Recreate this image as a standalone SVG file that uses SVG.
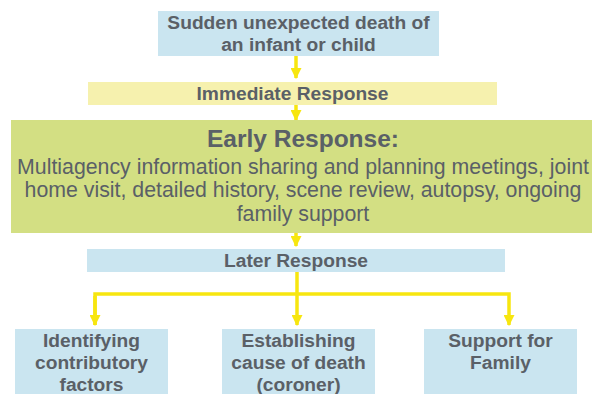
<svg xmlns="http://www.w3.org/2000/svg" width="593" height="394" viewBox="0 0 593 394">
<defs>
<style>
.blue{fill:#CAE5F0}
.yel{fill:#F6F1AE}
.grn{fill:#D3DF83}
text{font-family:"Liberation Sans",Arial,sans-serif;fill:#5A6067;text-anchor:middle}
.b{font-weight:bold;font-size:19.2px}
.h{font-weight:bold;font-size:24.5px}
.r{font-size:21.3px}
.ln{stroke:#F7E60F;stroke-width:3.5;fill:none}
</style>
<marker id="ah" viewBox="0 0 10 10" refX="9" refY="5" markerWidth="11" markerHeight="11" markerUnits="userSpaceOnUse" orient="auto">
<path d="M0,0 L10,5 L0,10 Z" fill="#F7E60F"/>
</marker>
</defs>
<rect width="593" height="394" fill="#FFFFFF"/>
<g id="connectors">
<line class="ln" x1="296" y1="56" x2="296" y2="78" marker-end="url(#ah)"/>
<line class="ln" x1="296" y1="105" x2="296" y2="120" marker-end="url(#ah)"/>
<line class="ln" x1="296" y1="233" x2="296" y2="246" marker-end="url(#ah)"/>
<line class="ln" x1="297" y1="272" x2="297" y2="325" marker-end="url(#ah)"/>
<polyline class="ln" points="95,325 95,294 509,294 509,325" marker-end="url(#ah)"/>
<line class="ln" x1="95" y1="296" x2="95" y2="325" marker-end="url(#ah)"/>
</g>
<g id="n-sudden">
<rect class="blue" x="158" y="11" width="281" height="45"/>
<text class="b" x="298.5" y="29">Sudden unexpected death of</text>
<text class="b" x="298.5" y="51">an infant or child</text>
</g>
<g id="n-immediate">
<rect class="yel" x="88" y="82" width="409" height="23"/>
<text class="b" x="292.5" y="100">Immediate Response</text>
</g>
<g id="n-early">
<rect class="grn" x="11" y="120" width="581" height="113"/>
<text class="h" x="303" y="147">Early Response:</text>
<text class="r" x="303" y="174">Multiagency information sharing and planning meetings, joint</text>
<text class="r" x="303" y="197">home visit, detailed history, scene review, autopsy, ongoing</text>
<text class="r" x="303" y="221">family support</text>
</g>
<g id="n-later">
<rect class="blue" x="87" y="249" width="418" height="23"/>
<text class="b" x="296" y="267">Later Response</text>
</g>
<g id="n-identifying">
<rect class="blue" x="15" y="329" width="153" height="70"/>
<text class="b" x="91.5" y="347">Identifying</text>
<text class="b" x="91.5" y="369">contributory</text>
<text class="b" x="91.5" y="391">factors</text>
</g>
<g id="n-cause">
<rect class="blue" x="222" y="329" width="153" height="70"/>
<text class="b" x="298.5" y="347">Establishing</text>
<text class="b" x="298.5" y="369">cause of death</text>
<text class="b" x="298.5" y="391">(coroner)</text>
</g>
<g id="n-support">
<rect class="blue" x="424" y="329" width="153" height="70"/>
<text class="b" x="500.5" y="347">Support for</text>
<text class="b" x="500.5" y="369">Family</text>
</g>
</svg>
